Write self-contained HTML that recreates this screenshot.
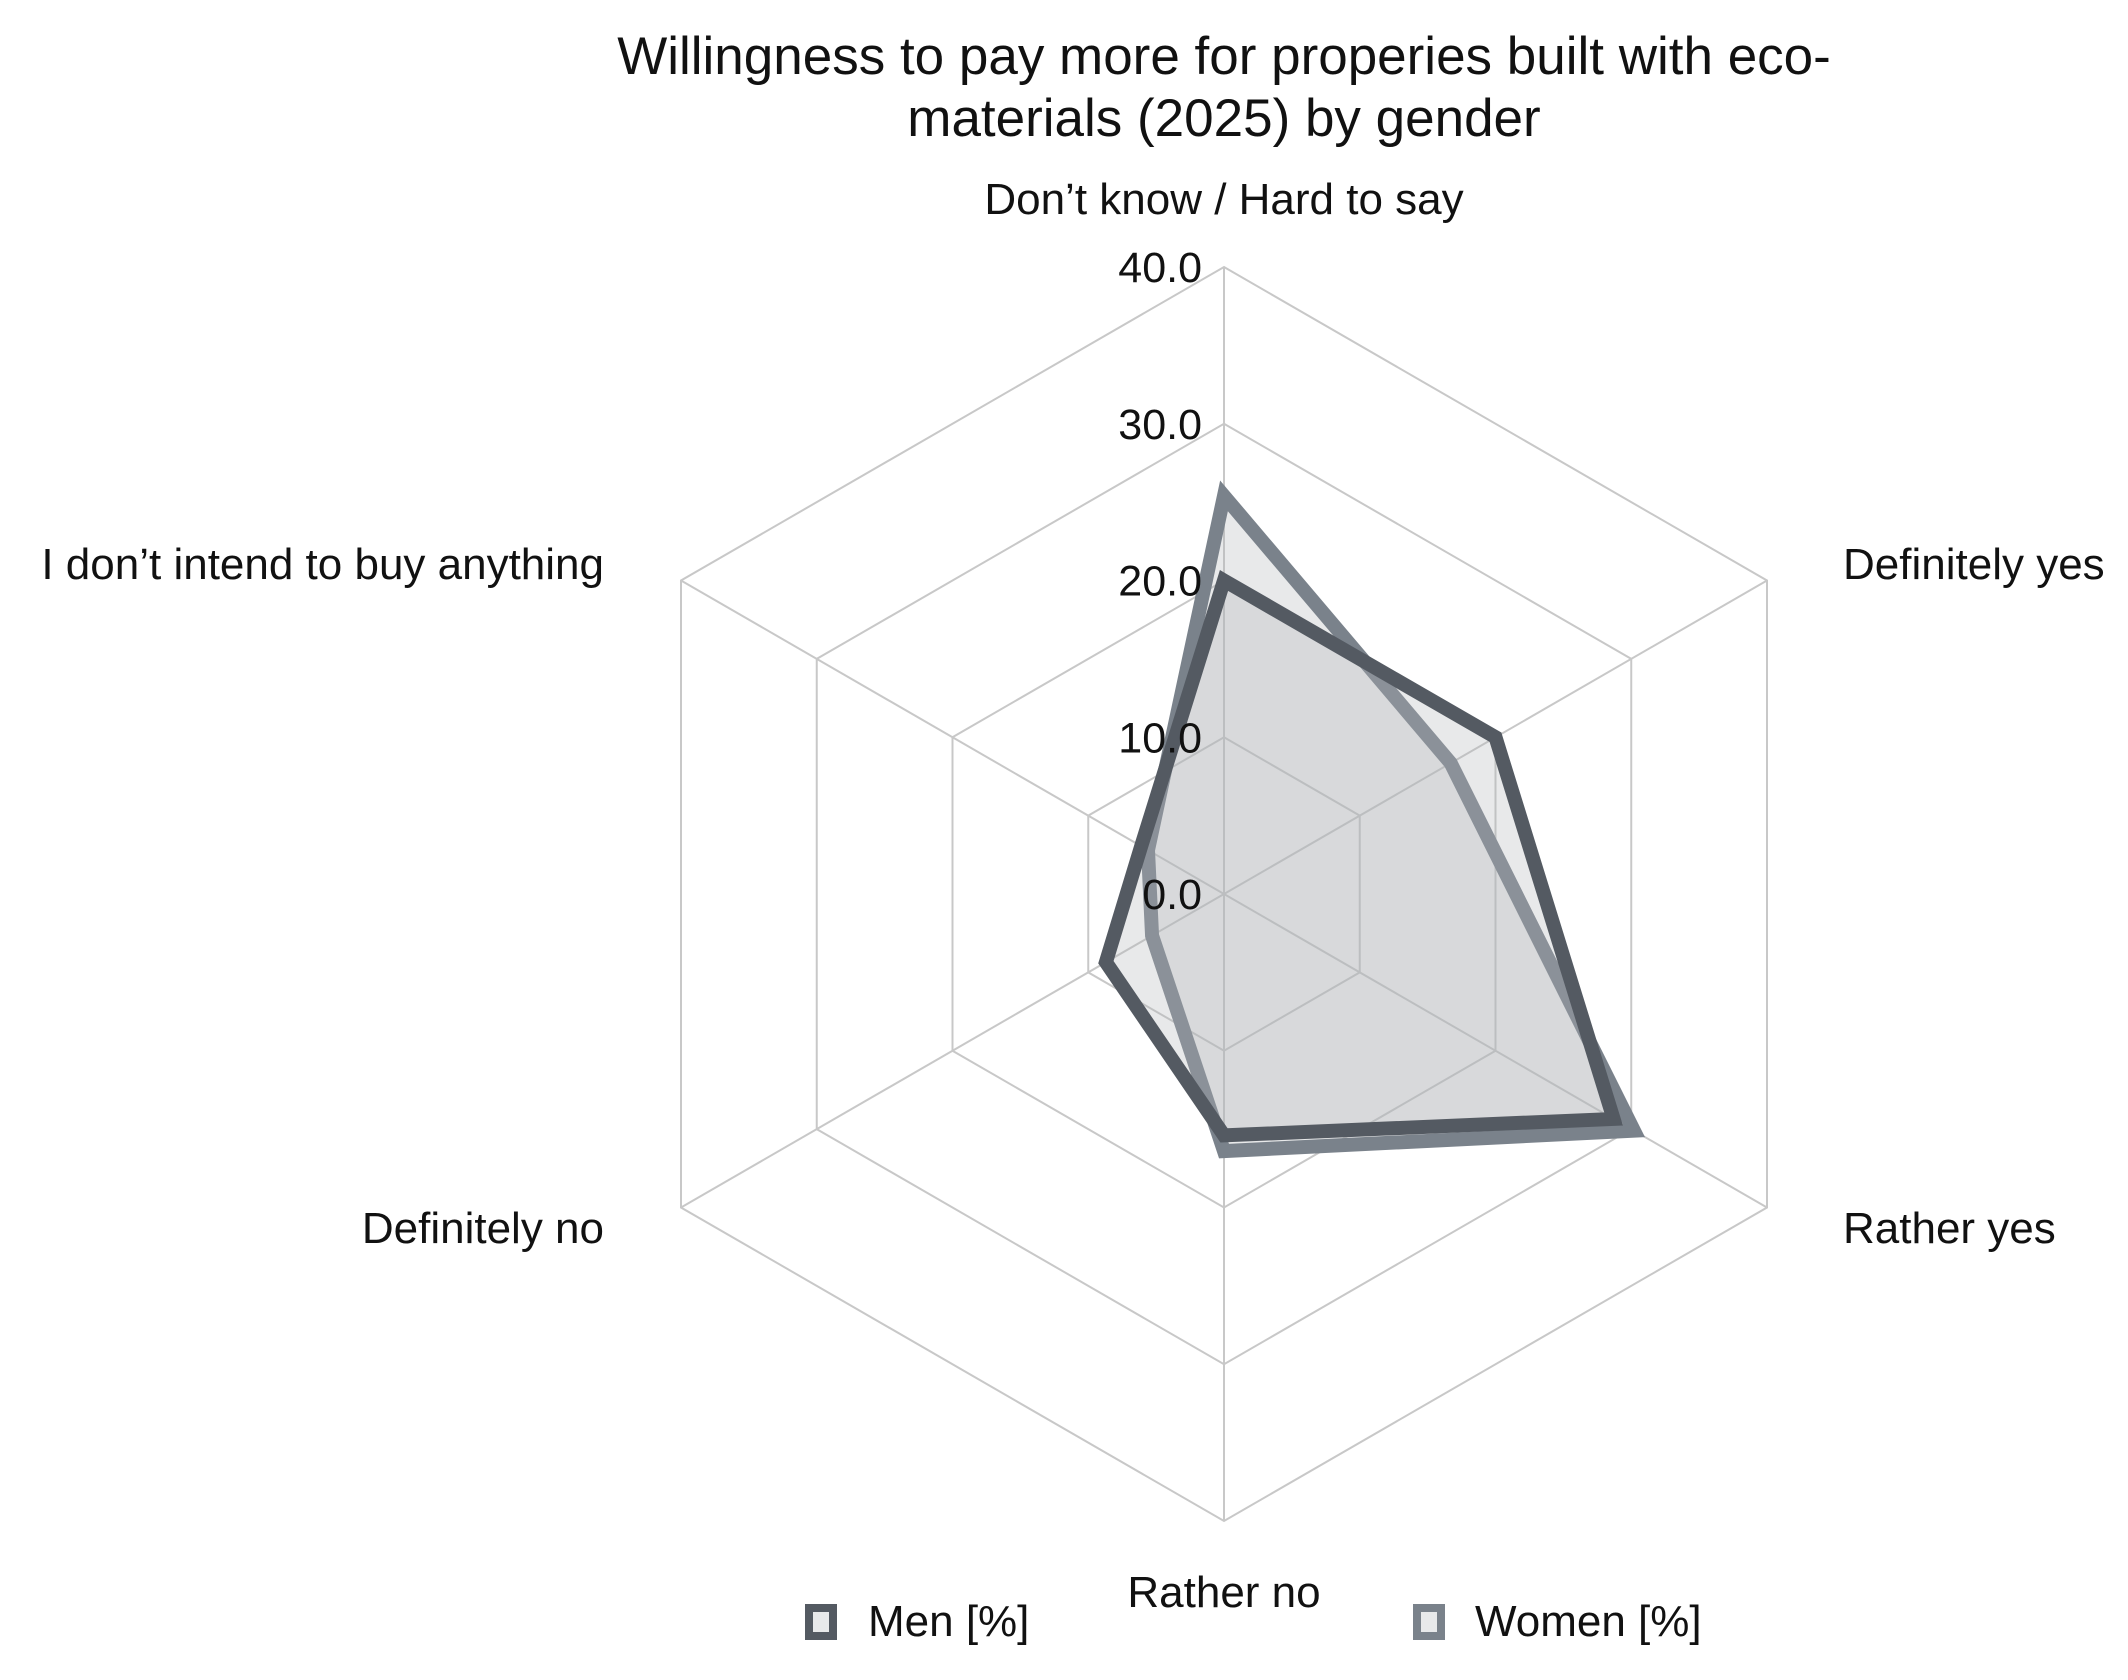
<!DOCTYPE html>
<html><head><meta charset="utf-8"><style>
html,body{margin:0;padding:0;background:#fff;}
svg{display:block;font-family:"Liberation Sans",Arial,sans-serif;}
</style></head><body>
<svg id="chart" width="2128" height="1680" viewBox="0 0 2128 1680">
<text x="1224" y="72" font-size="53" text-anchor="middle" fill="#111"><tspan x="1224" y="74">Willingness to pay more for properies built with eco-</tspan><tspan x="1224" y="136">materials (2025) by gender</tspan></text>
<g id="grid"></g><g id="series"></g><g id="labels"></g>
<g>
<rect x="809" y="1608" width="24" height="28" fill="#e8e9ea" stroke="#545a62" stroke-width="8"/>
<text x="868" y="1636" font-size="44" fill="#111">Men [%]</text>
<rect x="1417" y="1608" width="24" height="28" fill="#e8e9ea" stroke="#7a828b" stroke-width="8"/>
<text x="1475" y="1636" font-size="44" fill="#111">Women [%]</text>
</g>
</svg>
<script>
const categories = ["Don’t know / Hard to say","Definitely yes","Rather yes","Rather no","Definitely no","I don’t intend to buy anything"];
const menValues = [20.0, 20.0, 28.7, 15.4, 8.7, 6.1];
const womenValues = [25.4, 16.7, 30.2, 16.4, 5.3, 5.6];
const tickValues = [0, 10, 20, 30, 40];
const tickLabels = ["0.0","10.0","20.0","30.0","40.0"];

const NS = "http://www.w3.org/2000/svg";
const cx = 1224, cy = 894, R = 627, maxV = 40;
function ang(i){ return -Math.PI/2 + i*2*Math.PI/categories.length; }
function pt(i, v){ const r = v/maxV*R; return [cx + r*Math.cos(ang(i)), cy + r*Math.sin(ang(i))]; }
function mk(tag, attrs, parent){ const e=document.createElementNS(NS,tag); for(const k in attrs) e.setAttribute(k,attrs[k]); parent.appendChild(e); return e; }

const grid = document.getElementById("grid");
tickValues.forEach((t,j)=>{
  if(t===0) return;
  const pts = categories.map((c,i)=>pt(i,t).join(",")).join(" ");
  const p = mk("polygon",{points:pts,fill:"none",stroke:"#c8c8c8","stroke-width":2},grid);
  
  
});
categories.forEach((c,i)=>{
  const [x,y]=pt(i,maxV);
  const l = mk("line",{x1:cx,y1:cy,x2:x,y2:y,stroke:"#c8c8c8","stroke-width":2},grid);
  
  
});

const series = document.getElementById("series");
function drawSeries(vals, color, name){
  const pts = vals.map((v,i)=>pt(i,v).join(",")).join(" ");
  const p = mk("polygon",{points:pts,fill:"rgba(180,182,186,0.3)",stroke:color,"stroke-width":14,"stroke-linejoin":"miter"},series);
  
  
}
drawSeries(womenValues, "#7a828b", "women-series");
drawSeries(menValues, "#545a62", "men-series");

const labels = document.getElementById("labels");
tickValues.forEach((t,j)=>{
  const [x,y]=pt(0,t);
  const tx = mk("text",{x:x-22,y:y+15,"font-size":43,"text-anchor":"end",fill:"#111"},labels);
  tx.textContent = tickLabels[j];
  
  
});
const catPos = [[1224,214,"middle"],[1843,579,"start"],[1843,1243,"start"],[1224,1607,"middle"],[604,1243,"end"],[604,579,"end"]];
categories.forEach((c,i)=>{
  const p = catPos[i];
  const tx = mk("text",{x:p[0],y:p[1],"font-size":44,"text-anchor":p[2],fill:"#111"},labels);
  tx.textContent = c;
  
  
});
</script>
</body></html>
